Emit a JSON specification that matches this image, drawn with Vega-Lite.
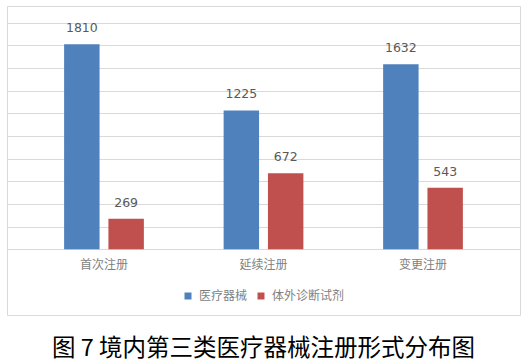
{
  "$schema": "https://vega.github.io/schema/vega-lite/v6.json",
  "width": 513,
  "height": 309,
  "padding": {"left": 7, "top": 6, "right": 7, "bottom": 4},
  "background": "white",
  "title": {
    "text": "图 7  境内第三类医疗器械注册形式分布图",
    "orient": "bottom",
    "anchor": "middle",
    "font": "Noto Sans CJK SC",
    "fontSize": 23.5,
    "fontWeight": "normal",
    "color": "#000000",
    "offset": 22
  },
  "data": {
    "values": [
      {"type": "首次注册", "series": "医疗器械", "count": 1810},
      {"type": "首次注册", "series": "体外诊断试剂", "count": 269},
      {"type": "延续注册", "series": "医疗器械", "count": 1225},
      {"type": "延续注册", "series": "体外诊断试剂", "count": 672},
      {"type": "变更注册", "series": "医疗器械", "count": 1632},
      {"type": "变更注册", "series": "体外诊断试剂", "count": 543}
    ]
  },
  "encoding": {
    "x": {
      "field": "type",
      "type": "nominal",
      "sort": ["首次注册", "延续注册", "变更注册"],
      "scale": {"paddingInner": 0.5, "paddingOuter": 0.358},
      "axis": {
        "title": null,
        "orient": "bottom",
        "offset": -66,
        "domain": false,
        "ticks": false,
        "labelAngle": 0,
        "labelPadding": 10,
        "labelFont": "Noto Sans CJK SC",
        "labelFontSize": 12,
        "labelColor": "#7f7f7f"
      }
    },
    "xOffset": {
      "field": "series",
      "type": "nominal",
      "sort": ["医疗器械", "体外诊断试剂"],
      "scale": {"paddingInner": 0.2, "paddingOuter": 0}
    },
    "y": {
      "field": "count",
      "type": "quantitative",
      "scale": {"domain": [-580, 2147], "nice": false, "zero": false},
      "axis": {
        "title": null,
        "values": [0, 200, 400, 600, 800, 1000, 1200, 1400, 1600, 1800, 2000],
        "labels": false,
        "ticks": false,
        "domain": false,
        "grid": true,
        "gridColor": "#d9d9d9",
        "gridWidth": 1
      }
    }
  },
  "layer": [
    {
      "mark": {"type": "bar"},
      "encoding": {
        "y2": {"datum": 0},
        "color": {
          "field": "series",
          "type": "nominal",
          "sort": ["医疗器械", "体外诊断试剂"],
          "scale": {"range": ["#4F81BD", "#C0504D"]},
          "legend": {
            "title": null,
            "orient": "bottom",
            "direction": "horizontal",
            "offset": -25,
            "symbolType": "square",
            "symbolSize": 49,
            "symbolStrokeWidth": 0,
            "labelFont": "Noto Sans CJK SC",
            "labelFontSize": 12,
            "labelColor": "#7f7f7f",
            "columnPadding": 7,
            "symbolOffset": 0,
            "labelOffset": 5
          }
        }
      }
    },
    {
      "mark": {
        "type": "text",
        "baseline": "alphabetic",
        "dy": -12,
        "font": "DejaVu Sans",
        "fontSize": 12.5,
        "color": "#595959"
      },
      "encoding": {
        "text": {"field": "count", "type": "quantitative", "format": "d"}
      }
    }
  ],
  "config": {
    "view": {"stroke": "#d9d9d9", "strokeWidth": 1},
    "legend": {"layout": {"bottom": {"anchor": "middle"}}}
  }
}
